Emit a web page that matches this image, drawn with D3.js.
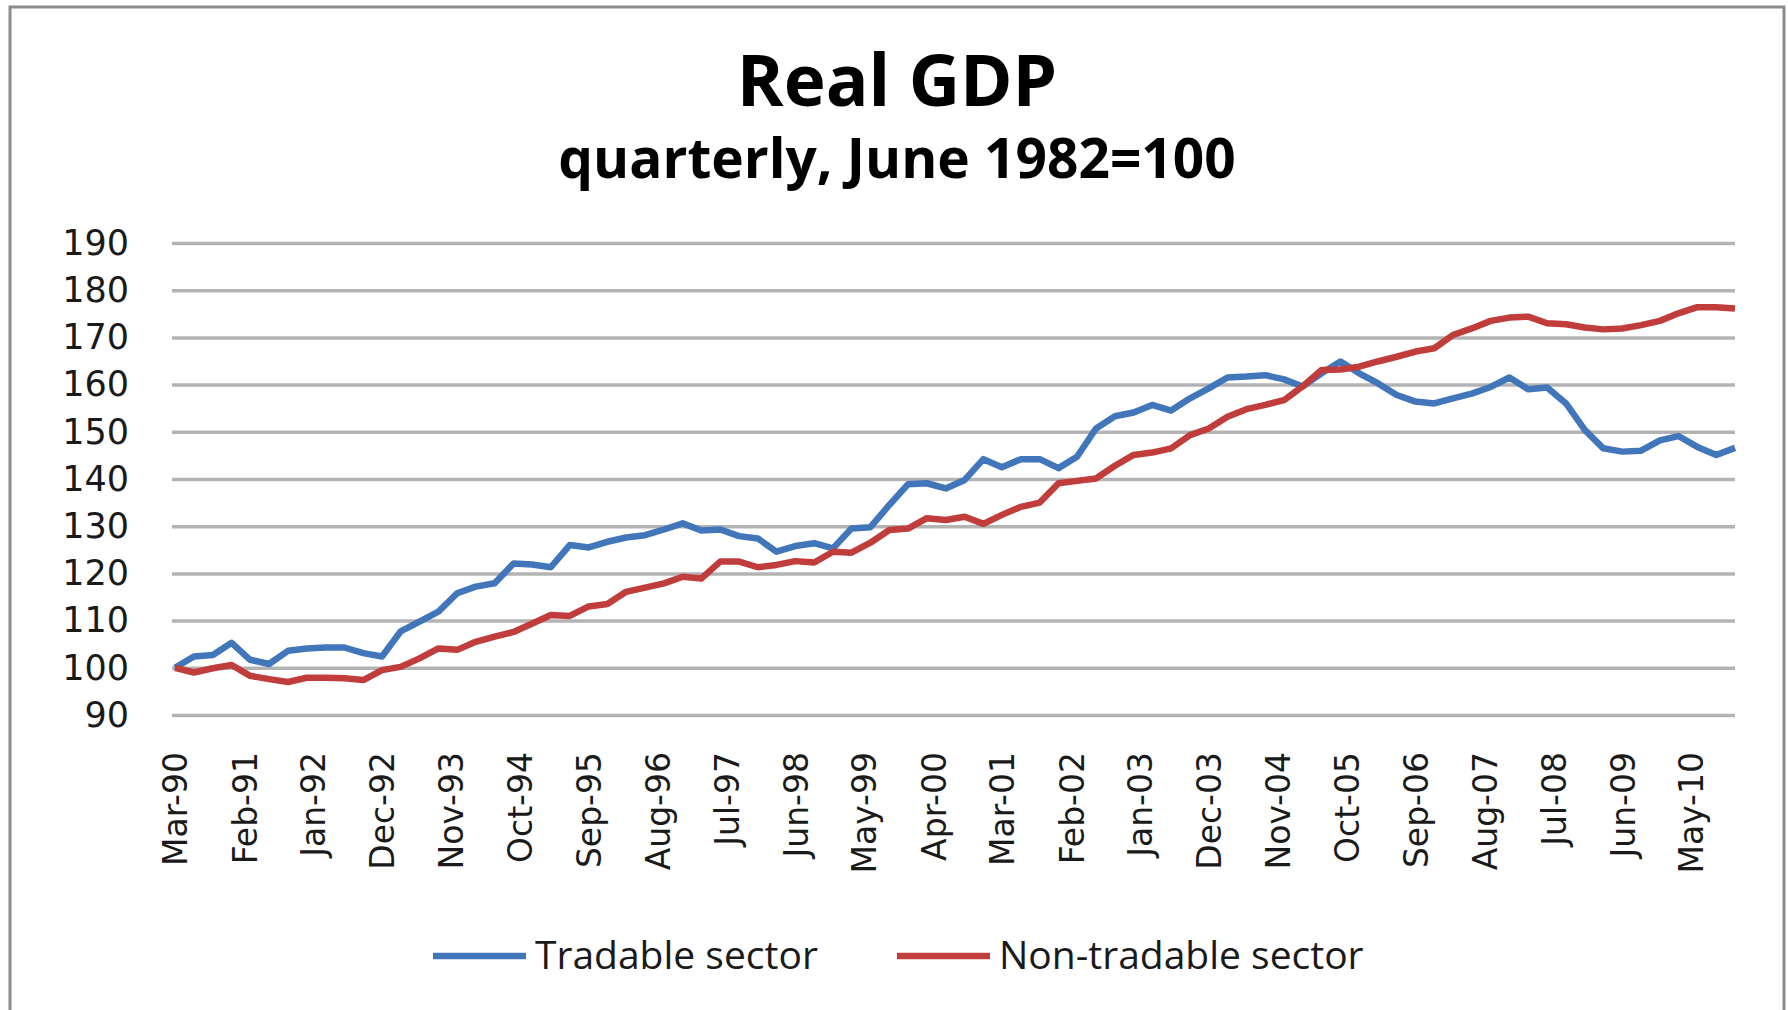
<!DOCTYPE html>
<html lang="en">
  <head>
    <meta charset="UTF-8" />
    <title>Real GDP</title>
    <script src="https://d3js.org/d3.v7.min.js"></script>
    <style>
      body {
        margin: 0;
        background: #fff;
      }
      .title {
        font-family: "Open Sans", sans-serif;
        font-weight: bold;
        fill: #000;
      }
      .axis text {
        font-family: "DejaVu Sans", sans-serif;
        fill: #1a1a1a;
      }
      .axis path {
        display: none;
      }
      .grid line {
        stroke: #b3b3b3;
        stroke-width: 3.5px;
      }
      .grid path {
        display: none;
      }
      .series {
        fill: none;
        stroke-width: 6.5px;
        stroke-linejoin: round;
      }
      .legend text {
        font-family: "Open Sans", sans-serif;
        font-size: 39px;
        fill: #1a1a1a;
      }
    </style>
  </head>

  <body>
    <svg id="chart" width="1788" height="1010"></svg>
    <script>
      // quarterly observations, Mar-90 .. Dec-10
      const quarters = [
        "Mar-90", "Jun-90", "Sep-90", "Dec-90", "Mar-91", "Jun-91", "Sep-91", "Dec-91",
        "Mar-92", "Jun-92", "Sep-92", "Dec-92", "Mar-93", "Jun-93", "Sep-93", "Dec-93",
        "Mar-94", "Jun-94", "Sep-94", "Dec-94", "Mar-95", "Jun-95", "Sep-95", "Dec-95",
        "Mar-96", "Jun-96", "Sep-96", "Dec-96", "Mar-97", "Jun-97", "Sep-97", "Dec-97",
        "Mar-98", "Jun-98", "Sep-98", "Dec-98", "Mar-99", "Jun-99", "Sep-99", "Dec-99",
        "Mar-00", "Jun-00", "Sep-00", "Dec-00", "Mar-01", "Jun-01", "Sep-01", "Dec-01",
        "Mar-02", "Jun-02", "Sep-02", "Dec-02", "Mar-03", "Jun-03", "Sep-03", "Dec-03",
        "Mar-04", "Jun-04", "Sep-04", "Dec-04", "Mar-05", "Jun-05", "Sep-05", "Dec-05",
        "Mar-06", "Jun-06", "Sep-06", "Dec-06", "Mar-07", "Jun-07", "Sep-07", "Dec-07",
        "Mar-08", "Jun-08", "Sep-08", "Dec-08", "Mar-09", "Jun-09", "Sep-09", "Dec-09",
        "Mar-10", "Jun-10", "Sep-10", "Dec-10"
      ];

      const tradable = [
        100.0, 102.4, 102.7, 105.3, 101.7, 100.8, 103.6, 104.1,
        104.3, 104.3, 103.1, 102.4, 107.7, 109.8, 111.9, 115.8,
        117.2, 117.9, 122.1, 121.9, 121.3, 126.0, 125.5, 126.7,
        127.6, 128.1, 129.3, 130.6, 129.1, 129.3, 127.9, 127.4,
        124.6, 125.8, 126.4, 125.3, 129.5, 129.8, 134.5, 138.9,
        139.1, 138.0, 139.8, 144.2, 142.5, 144.2, 144.2, 142.3,
        144.7, 150.7, 153.3, 154.1, 155.7, 154.5, 157.1, 159.2,
        161.5, 161.7, 162.0, 161.1, 159.6, 162.4, 164.9, 162.4,
        160.3, 157.8, 156.4, 156.0, 157.1, 158.1, 159.5, 161.5,
        159.0, 159.4, 156.0, 150.4, 146.5, 145.8, 146.0, 148.2,
        149.1, 146.8, 145.1, 146.6
      ];

      const nonTradable = [
        100.0, 99.0, 99.9, 100.6, 98.3, 97.6, 97.0, 97.9,
        97.9, 97.8, 97.4, 99.5, 100.2, 102.0, 104.1, 103.8,
        105.5, 106.6, 107.6, 109.4, 111.2, 111.0, 113.0, 113.5,
        116.1, 117.0, 117.9, 119.3, 118.9, 122.5, 122.5, 121.3,
        121.8, 122.6, 122.3, 124.6, 124.4, 126.5, 129.2, 129.5,
        131.7, 131.3, 132.0, 130.5, 132.4, 134.1, 135.0, 139.1,
        139.6, 140.1, 142.8, 145.1, 145.6, 146.5, 149.3, 150.7,
        153.2, 154.8, 155.7, 156.7, 159.6, 163.1, 163.2, 163.8,
        164.9, 165.9, 167.0, 167.7, 170.5, 171.9, 173.5, 174.2,
        174.4, 173.0, 172.8, 172.1, 171.7, 171.9, 172.6, 173.5,
        175.1, 176.4, 176.4, 176.1
      ];

      const xTickLabels = [
        "Mar-90", "Feb-91", "Jan-92", "Dec-92", "Nov-93", "Oct-94", "Sep-95", "Aug-96",
        "Jul-97", "Jun-98", "May-99", "Apr-00", "Mar-01", "Feb-02", "Jan-03", "Dec-03",
        "Nov-04", "Oct-05", "Sep-06", "Aug-07", "Jul-08", "Jun-09", "May-10"
      ];
      const yTicks = [90, 100, 110, 120, 130, 140, 150, 160, 170, 180, 190];

      const seriesNames = ["Tradable sector", "Non-tradable sector"];
      const seriesColors = ["#4176bb", "#c03d3c"];

      const svg = d3.select("#chart");
      const width = +svg.attr("width");
      const height = +svg.attr("height");

      const margin = { top: 243, right: 53, bottom: 295, left: 175 };
      const plotW = width - margin.left - margin.right;
      const plotH = height - margin.top - margin.bottom;

      // chart frame
      svg.append("rect")
        .attr("x", 10)
        .attr("y", 7)
        .attr("width", width - 14)
        .attr("height", height)
        .attr("fill", "#fff")
        .attr("stroke", "#8c8c8c")
        .attr("stroke-width", 3);

      svg.append("text")
        .attr("class", "title")
        .attr("x", 897)
        .attr("y", 106)
        .attr("text-anchor", "middle")
        .attr("font-size", 71)
        .text("Real GDP");

      svg.append("text")
        .attr("class", "title")
        .attr("x", 897)
        .attr("y", 178)
        .attr("text-anchor", "middle")
        .attr("font-size", 55)
        .text("quarterly, June 1982=100");

      const parse = d3.timeParse("%b-%y");
      const dates = quarters.map(parse);

      const x = d3.scaleTime()
        .domain([dates[0], dates[dates.length - 1]])
        .range([0, plotW]);
      const y = d3.scaleLinear().domain([90, 190]).range([plotH, 0]);

      const plot = svg.append("g")
        .attr("transform", "translate(" + margin.left + "," + margin.top + ")");

      plot.append("g")
        .attr("class", "grid")
        .attr("transform", "translate(-3,0)")
        .call(d3.axisLeft(y).tickValues(yTicks).tickSize(-(plotW + 3)).tickFormat(""));

      plot.append("g")
        .attr("class", "axis")
        .call(d3.axisLeft(y).tickValues(yTicks).tickSize(0).tickPadding(46))
        .selectAll("text")
        .attr("font-size", 35);

      const xAxis = plot.append("g")
        .attr("class", "axis")
        .attr("transform", "translate(0," + plotH + ")")
        .call(d3.axisBottom(x)
          .tickValues(xTickLabels.map(parse))
          .tickSize(0)
          .tickFormat(d3.timeFormat("%b-%y")));
      xAxis.selectAll("text")
        .attr("font-size", 33)
        .attr("transform", "rotate(-90)")
        .attr("text-anchor", "end")
        .attr("x", -37)
        .attr("y", 0)
        .attr("dy", "0.36em");

      const line = d3.line()
        .x((d, i) => x(dates[i]))
        .y(d => y(d));

      [tradable, nonTradable].forEach((values, k) => {
        plot.append("path")
          .attr("class", "series")
          .attr("stroke", seriesColors[k])
          .attr("d", line(values));
      });

      // legend
      const legendX = [433, 897];
      const legend = svg.append("g").attr("class", "legend");
      seriesNames.forEach((name, k) => {
        legend.append("line")
          .attr("x1", legendX[k])
          .attr("x2", legendX[k] + 93)
          .attr("y1", 956)
          .attr("y2", 956)
          .attr("stroke", seriesColors[k])
          .attr("stroke-width", 6.5);
        legend.append("text")
          .attr("x", legendX[k] + 102)
          .attr("y", 969)
          .text(name);
      });
    </script>
  </body>
</html>
